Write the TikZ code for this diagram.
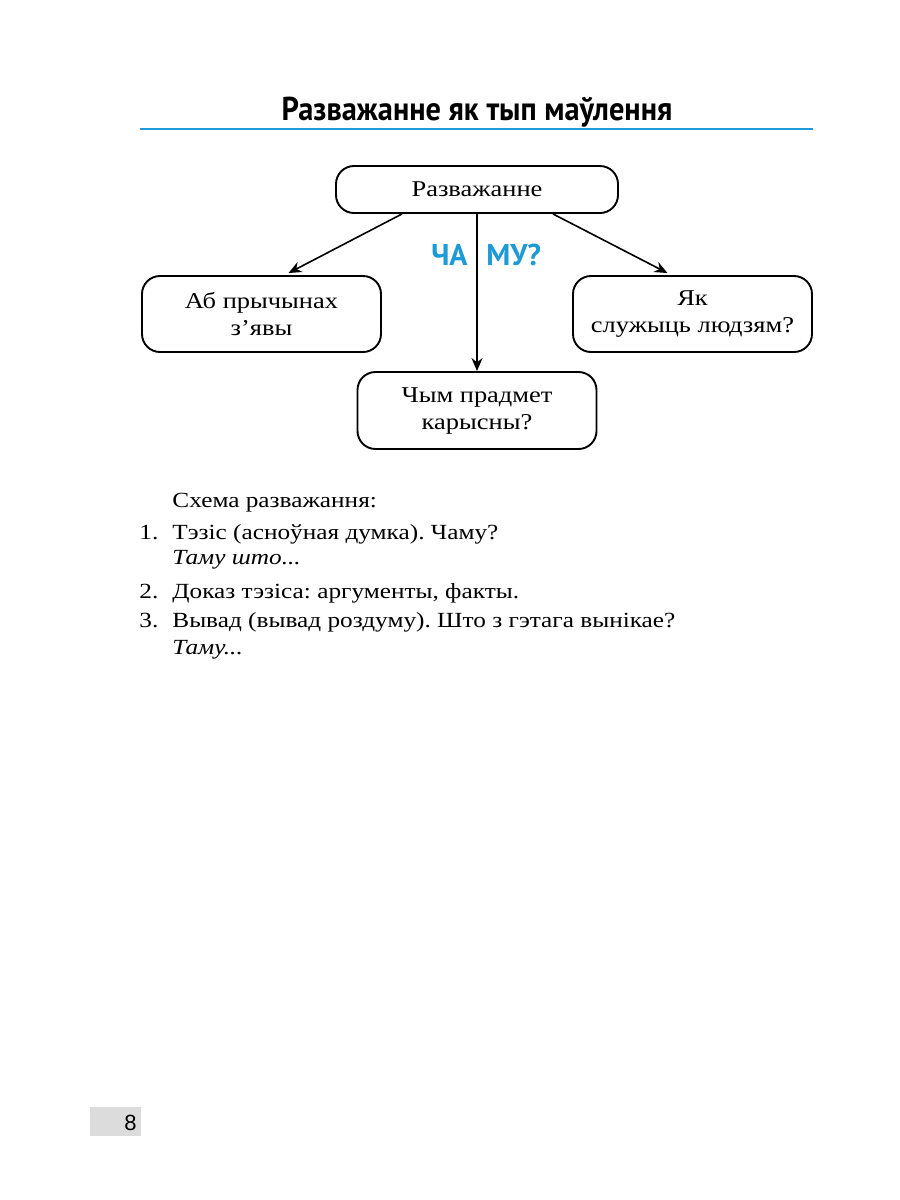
\documentclass[tikz,border=0pt]{standalone}
\usepackage{fontspec}
\setmainfont{Liberation Serif}[FakeStretch=1.17]
\newfontfamily\titlefont{PT Sans}
\newfontfamily\numfont{Liberation Sans}
\usetikzlibrary{arrows.meta,calc}
\definecolor{accent}{HTML}{1E9AD6}
\definecolor{pagegray}{HTML}{DCDCDC}
\frenchspacing
\begin{document}
\begin{tikzpicture}[x=0.5pt,y=-0.5pt,
  box/.style={draw,line width=0.95pt,rounded corners=9pt,align=center,font=\fontsize{11.3}{13.5}\selectfont,inner sep=0pt},
  arr/.style={line width=0.8pt,-{Stealth[length=6.5pt,width=5.5pt]}},
  txt/.style={anchor=base west,inner sep=0pt,font=\fontsize{10.8}{13}\selectfont}]
\useasboundingbox (0,0) rectangle (900,1200);
% title
\node[anchor=base,inner sep=0pt,font=\titlefont\bfseries\fontsize{16.5}{18}\selectfont] (title) at (477,120) {\scalebox{0.92}[1]{Разважанне як тып маўлення}};
\draw[accent,line width=1.4pt] (140,129) -- (813,129);
% boxes
\node[box,minimum width=141pt,minimum height=23.5pt] (top) at (477,189.5) {Разважанне};
\node[box,minimum width=119.5pt,minimum height=38pt] (left) at (261.5,314) {Аб прычынах\\з’явы};
\node[box,minimum width=119.5pt,minimum height=38pt] (right) at (692.5,314) {Як\\служыць людзям?};
\node[box,minimum width=119.5pt,minimum height=38.5pt] (bottom) at (477,410.5) {Чым прадмет\\карысны?};
% arrows
\draw[arr] ($(top.south)+(-75,0)$) -- ($(left.north)+(27,-2)$);
\draw[arr] ($(top.south)+(76,0)$) -- ($(right.north)+(-25,-2)$);
\draw[arr] (top.south) -- (bottom.north);
% question
\node[anchor=base east,inner sep=0pt,text=accent,font=\titlefont\bfseries\fontsize{15}{18}\selectfont] (cha) at (468,265) {ЧА};
\node[anchor=base west,inner sep=0pt,text=accent,font=\titlefont\bfseries\fontsize{15}{18}\selectfont] (mu) at (486,265) {МУ?};
% list
\node[txt] (head) at (172,507) {Схема разважання:};
\node[txt] (n1) at (139,539) {1.};
\node[txt] (t1) at (172,539) {Тэзіс (асноўная думка). Чаму?};
\node[txt] (t1b) at (172,564) {\itshape Таму што...};
\node[txt] (n2) at (139,598) {2.};
\node[txt] (t2) at (172,598) {Доказ тэзіса: аргументы, факты.};
\node[txt] (n3) at (139,627) {3.};
\node[txt] (t3) at (172,627) {Вывад (вывад роздуму). Што з гэтага вынікае?};
\node[txt] (t3b) at (172,654) {\itshape Таму...};
% page number
\fill[pagegray] (90,1107) rectangle (141,1136);
\node[anchor=base east,inner sep=0pt,font=\numfont\fontsize{11}{13}\selectfont] (pg) at (137,1130) {8};
\end{tikzpicture}
\end{document}
